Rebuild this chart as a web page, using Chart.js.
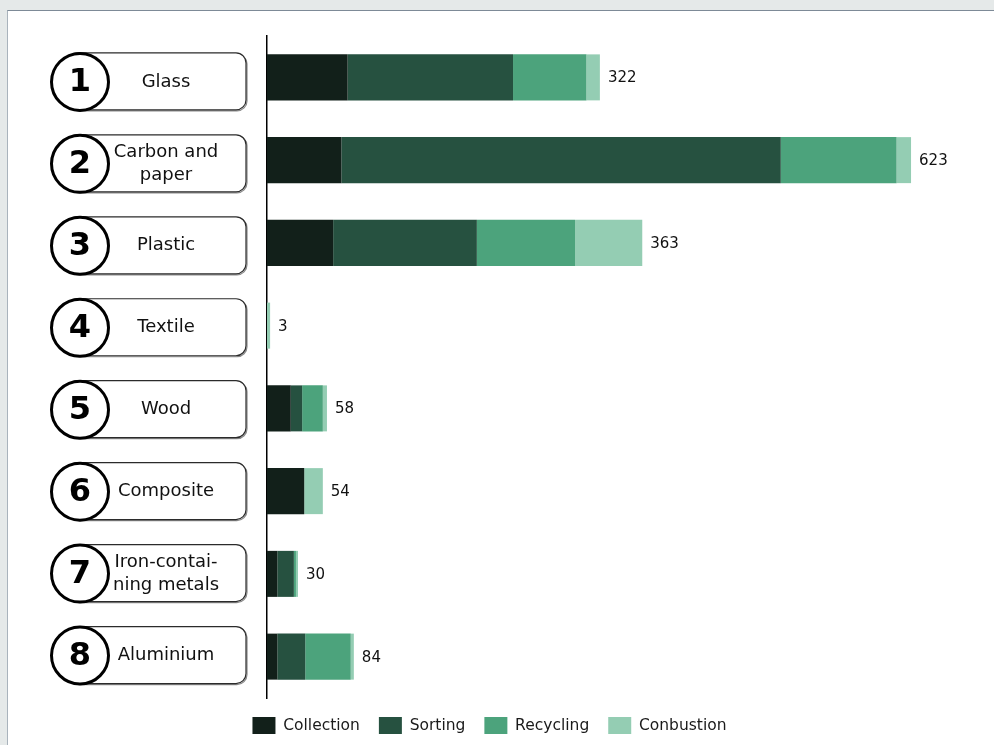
<!DOCTYPE html>
<html>
<head>
<meta charset="utf-8">
<script src="https://cdn.jsdelivr.net/npm/chart.js@4.4.1/dist/chart.umd.min.js"></script>
<style>
  html, body { margin: 0; padding: 0; background: #e5e9e9; overflow: hidden; }
  #panel { position: absolute; left: 7px; top: 10px; width: 1000px; height: 760px; background: #fff;
           border-top: 1px solid #7d8a97; border-left: 1px solid #a9b3bc; }
  #wasteChart { position: absolute; left: 0; top: 0; }
</style>
</head>
<body>
<div id="panel"><canvas id="wasteChart" width="963" height="734"></canvas></div>
<script>
const categories = ['Glass', 'Carbon and paper', 'Plastic', 'Textile', 'Wood', 'Composite', 'Iron-containing metals', 'Aluminium'];
const labelLines = [['Glass'], ['Carbon and', 'paper'], ['Plastic'], ['Textile'], ['Wood'], ['Composite'], ['Iron-contai-', 'ning metals'], ['Aluminium']];
const collection = [78, 72, 64, 0, 23, 36, 10, 10];
const sorting = [160, 425, 139, 0, 11, 0, 16, 27];
const recycling = [71, 112, 95, 0, 20, 0, 2, 44];
const combustion = [13, 14, 65, 3, 4, 18, 2, 3];
const totals = [322, 623, 363, 3, 58, 54, 30, 84];

// boxes with numbered circles on the left of each bar
const labelBoxes = {
    id: 'labelBoxes',
    afterDraw(chart) {
        const ctx = chart.ctx;
        const yScale = chart.scales.y;
        ctx.save();
        labelLines.forEach((lines, i) => {
            const cy = yScale.getPixelForValue(i) + 4.5 - i * 0.8;
            ctx.lineWidth = 1.2;
            ctx.strokeStyle = '#8a8a8a';
            ctx.beginPath();
            ctx.roundRect(61, cy - 28, 178, 57, 10);
            ctx.stroke();
            ctx.strokeStyle = '#2b2b2b';
            ctx.fillStyle = '#fff';
            ctx.beginPath();
            ctx.roundRect(60, cy - 29, 178, 57, 10);
            ctx.fill();
            ctx.stroke();

            ctx.beginPath();
            ctx.arc(72, cy, 28.5, 0, Math.PI * 2);
            ctx.fill();
            ctx.lineWidth = 3;
            ctx.strokeStyle = '#000';
            ctx.stroke();

            ctx.fillStyle = '#000';
            ctx.textAlign = 'center';
            ctx.textBaseline = 'middle';
            ctx.font = 'bold 32px "DejaVu Sans"';
            ctx.fillText(String(i + 1), 72, cy + 1);

            ctx.fillStyle = '#111';
            ctx.font = '18px "DejaVu Sans"';
            lines.forEach((t, k) => {
                ctx.fillText(t, 158, cy + (k - (lines.length - 1) / 2) * 23);
            });
        });
        ctx.restore();
    }
};

const totalLabels = {
    id: 'totalLabels',
    afterDatasetsDraw(chart) {
        const {ctx, scales: {x, y}} = chart;
        ctx.save();
        ctx.font = '15px "DejaVu Sans"';
        ctx.fillStyle = '#111';
        ctx.textAlign = 'left';
        ctx.textBaseline = 'middle';
        totals.forEach((v, i) => {
            ctx.fillText(String(v), x.getPixelForValue(v) + 8, y.getPixelForValue(i) + 1);
        });
        ctx.restore();
    }
};

new Chart(document.getElementById('wasteChart'), {
    type: 'bar',
    data: {
        labels: categories,
        datasets: [
            { label: 'Collection', data: collection, backgroundColor: '#12201a' },
            { label: 'Sorting', data: sorting, backgroundColor: '#265140' },
            { label: 'Recycling', data: recycling, backgroundColor: '#4ca37c' },
            { label: 'Conbustion', data: combustion, backgroundColor: '#94cdb3' }
        ]
    },
    options: {
        indexAxis: 'y',
        responsive: false,
        animation: false,
        barPercentage: 0.556,
        categoryPercentage: 1,
        borderWidth: 0,
        layout: { padding: { top: 25, bottom: 1, left: 0, right: 0 } },
        scales: {
            x: { stacked: true, display: false, min: 0, max: 681 },
            y: {
                stacked: true,
                ticks: { display: false },
                grid: { display: false },
                border: { display: true, color: '#000', width: 1.5 },
                afterFit: (scale) => { scale.width = 259; }
            }
        },
        plugins: {
            tooltip: { enabled: false },
            legend: {
                position: 'bottom',
                labels: {
                    boxWidth: 23,
                    boxHeight: 17,
                    padding: 19,
                    color: '#1a1a1a',
                    font: { family: '"DejaVu Sans"', size: 15.5 }
                }
            }
        }
    },
    plugins: [labelBoxes, totalLabels]
});
</script>
</body>
</html>
